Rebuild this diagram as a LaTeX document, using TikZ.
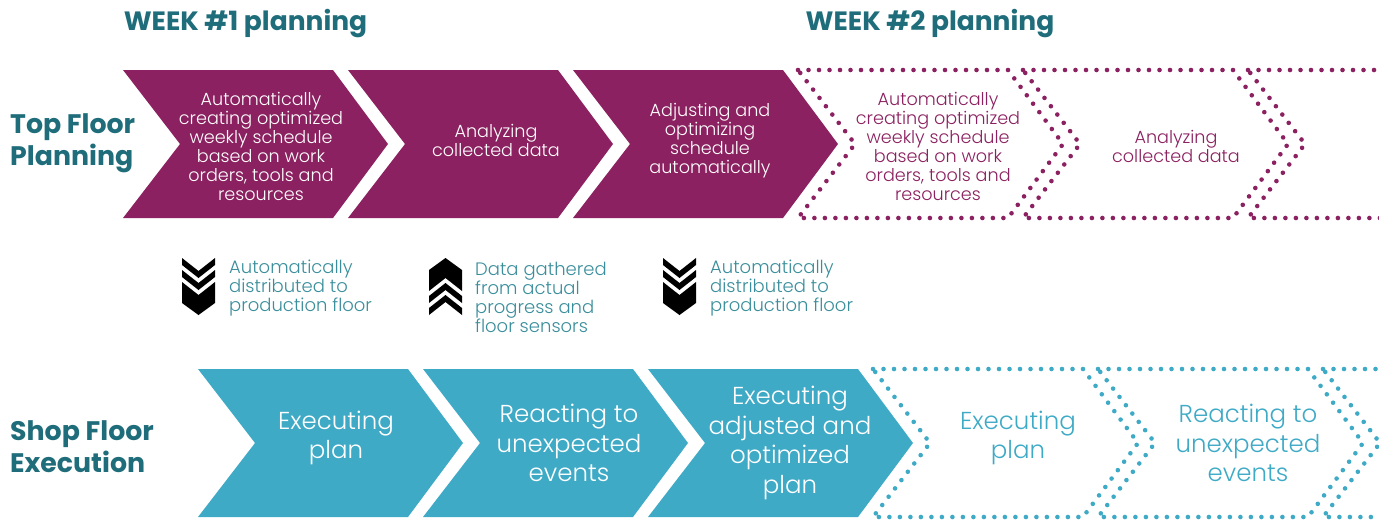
\documentclass[tikz,border=0pt]{standalone}
\usepackage{fontspec}
\setmainfont{Poppins}[UprightFont=* Light, BoldFont=* Bold]
\definecolor{plum}{HTML}{8B2160}
\definecolor{sky}{HTML}{3FAAC6}
\definecolor{deepteal}{HTML}{1F6D7A}
\definecolor{midteal}{HTML}{3A8E9B}
\newcommand\chev[4]{% style, left x, top y, bottom y
  \path[#1] (#2,#3) -- ({#2+210},#3) -- ({#2+265},{(#3+#4)/2}) -- ({#2+210},#4) -- (#2,#4) -- ({#2+57},{(#3+#4)/2}) -- cycle;}
\newcommand\iconshape{%
  \fill (0,0) -- (16.5,13) -- (33,0) -- (33,7) -- (16.5,20) -- (0,7) -- cycle;
  \fill (0,12) -- (16.5,25) -- (33,12) -- (33,19) -- (16.5,32) -- (0,19) -- cycle;
  \fill (0,24) -- (16.5,37) -- (33,24) -- (33,45) -- (16.5,57) -- (0,45) -- cycle;}
\tikzset{
  solidtop/.style={fill=plum},
  solidbot/.style={fill=sky},
  dottop/.style={draw=plum, line width=4.6pt, line cap=round, dash pattern=on 0pt off 10.5pt},
  dotbot/.style={draw=sky, line width=4.6pt, line cap=round, dash pattern=on 0pt off 10.5pt},
  heading/.style={text=deepteal, font=\bfseries\fontsize{26.5}{30}\selectfont, inner sep=0pt},
  rowlabel/.style={text=deepteal, font=\bfseries\fontsize{26.8}{32}\selectfont, align=left, anchor=west, inner sep=0pt},
  toptext/.style={font=\fontsize{17.6}{19}\selectfont, align=center, inner sep=0pt},
  bottext/.style={font=\fontsize{24.5}{29.5}\selectfont, align=center, inner sep=0pt},
  midtext/.style={text=midteal, font=\fontsize{18}{19}\selectfont, align=left, anchor=west, inner sep=0pt}
}
\begin{document}
\begin{tikzpicture}[x=1pt,y=-1pt]
\useasboundingbox (0,0) rectangle (1379,523);
\clip (0,0) rectangle (1379,523);
% headings
\node[heading] (w1) at (245.5,24) {WEEK \#1 planning};
\node[heading] (w2) at (930,24) {WEEK \#2 planning};
\node[rowlabel] (tfp) at (10,143) {Top Floor\\Planning};
\node[rowlabel] (sfe) at (10,447) {Shop Floor\\Execution};
% top row chevrons
\chev{solidtop}{123}{70}{218}
\chev{solidtop}{348}{70}{218}
\chev{solidtop}{573}{70}{218}
\chev{dottop}{798}{70}{218}
\chev{dottop}{1023}{70}{218}
\chev{dottop}{1248}{70}{218}
% bottom row chevrons
\chev{solidbot}{198}{369}{517}
\chev{solidbot}{423}{369}{517}
\chev{solidbot}{648}{369}{517}
\chev{dotbot}{873}{369}{517}
\chev{dotbot}{1098}{369}{517}
\chev{dotbot}{1323}{369}{517}
% top texts
\node[toptext, text=white] (t1) at (261,146) {Automatically\\creating optimized\\weekly schedule\\based on work\\orders, tools and\\resources};
\node[toptext, text=white] (t2) at (496,140) {Analyzing\\collected data};
\node[toptext, text=white] (t3) at (710,141) {Adjusting and\\optimizing\\schedule\\automatically};
\node[toptext, text=plum] (t4) at (938,146) {Automatically\\creating optimized\\weekly schedule\\based on work\\orders, tools and\\resources};
\node[toptext, text=plum] (t5) at (1176,146) {Analyzing\\collected data};
% bottom texts
\node[bottext, text=white] (b1) at (336,438) {Executing\\plan};
\node[bottext, text=white] (b2) at (569,443) {Reacting to\\unexpected\\events};
\node[bottext, text=white] (b3) at (790,443) {Executing\\adjusted and\\optimized\\plan};
\node[bottext, text=sky] (b4) at (1018,438) {Executing\\plan};
\node[bottext, text=sky] (b5) at (1248,443) {Reacting to\\unexpected\\events};
% icons
\begin{scope}[shift={(182,258)}] \iconshape \end{scope}
\begin{scope}[shift={(429,315)}, yscale=-1] \iconshape \end{scope}
\begin{scope}[shift={(663,258)}] \iconshape \end{scope}
% middle texts
\node[midtext] (m1) at (229,288) {Automatically\\distributed to\\production floor};
\node[midtext] (m2) at (475,297) {Data gathered\\from actual\\progress and\\floor sensors};
\node[midtext] (m3) at (710,288) {Automatically\\distributed to\\production floor};
\end{tikzpicture}
\end{document}
